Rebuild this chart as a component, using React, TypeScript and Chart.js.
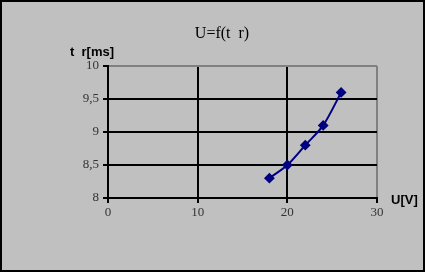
import React, { useEffect, useRef } from "react";
import { Chart, registerables } from "chart.js";

Chart.register(...registerables);

const voltage = [18, 20, 22, 24, 26];
const riseTime = [8.3, 8.5, 8.8, 9.1, 9.6];
const chartTitle = "U=f(t  r)";
const yAxisTitle = "t  r[ms]";
const xAxisTitle = "U[V]";

const W = 425;
const H = 272;

const framePlugin = {
  id: "frame",
  beforeDraw(chart: any) {
    const { ctx } = chart;
    ctx.save();
    ctx.fillStyle = "#c0c0c0";
    ctx.fillRect(0, 0, W, H);
    ctx.restore();
  },
  afterDraw(chart: any) {
    const { ctx, chartArea } = chart;
    ctx.save();
    ctx.strokeStyle = "#000";
    ctx.lineWidth = 2;
    ctx.strokeRect(1, 1, W - 2, H - 2);
    ctx.fillStyle = "#000";
    ctx.textBaseline = "middle";
    ctx.textAlign = "center";
    ctx.font = "16px 'Liberation Serif', serif";
    ctx.fillText(chartTitle, 222, 34);
    ctx.font = "bold 13px 'Liberation Sans', Arial, sans-serif";
    ctx.textAlign = "left";
    ctx.fillText(yAxisTitle, 70, 52);
    ctx.fillText(xAxisTitle, chartArea.right + 14, chartArea.bottom + 2);
    ctx.restore();
  },
};

export default function App() {
  const ref = useRef<HTMLCanvasElement>(null);
  useEffect(() => {
    document.body.style.margin = "0";
    const chart = new Chart(ref.current!, {
      type: "line",
      data: {
        datasets: [
          {
            data: voltage.map((v, i) => ({ x: v, y: riseTime[i] })),
            borderColor: "#000080",
            backgroundColor: "#000080",
            borderWidth: 2,
            tension: 0.3,
            pointStyle: "rectRot",
            pointRadius: 4,
            pointBackgroundColor: "#000080",
            pointBorderColor: "#000080",
          },
        ],
      },
      plugins: [framePlugin],
      options: {
        animation: false,
        responsive: false,
        layout: { padding: { left: 0, top: 66, right: W - 377, bottom: 0 } },
        plugins: {
          legend: { display: false },
          title: { display: false },
          tooltip: { enabled: false },
        },
        scales: {
          x: {
            type: "linear",
            min: 0,
            max: 30,
            ticks: {
              stepSize: 10,
              color: "#333",
              font: { family: "'Liberation Serif', serif", size: 13 },
              padding: 2,
            },
            grid: {
              color: (c: any) => (c.tick && c.tick.value === 30 ? "#808080" : "#000"),
              tickColor: "#000",
              lineWidth: 2,
              tickLength: 5,
            },
            border: { color: "#000", width: 2 },
            afterFit: (s: any) => {
              s.height = H - 198;
            },
          },
          y: {
            type: "linear",
            min: 8,
            max: 10,
            ticks: {
              stepSize: 0.5,
              color: "#333",
              font: { family: "'Liberation Serif', serif", size: 13 },
              padding: 4,
              callback: (v: any) => String(v).replace(".", ","),
            },
            grid: {
              color: (c: any) => (c.tick && c.tick.value === 10 ? "#808080" : "#000"),
              tickColor: "#000",
              lineWidth: 2,
              tickLength: 5,
            },
            border: { color: "#000", width: 2 },
            afterFit: (s: any) => {
              s.width = 108;
            },
          },
        },
      },
    });
    return () => chart.destroy();
  }, []);
  return (
    <div style={{ position: "absolute", left: 0, top: 0, width: W, height: H }}>
      <canvas ref={ref} width={W} height={H} style={{ width: W, height: H }} />
    </div>
  );
}
